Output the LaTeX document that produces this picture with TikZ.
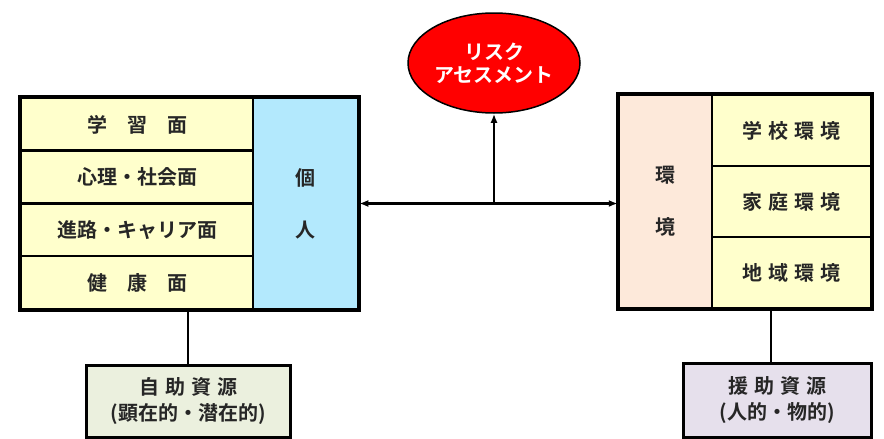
\documentclass[tikz,border=0pt]{standalone}
\usepackage{fontspec}
\setmainfont{Noto Sans CJK JP}[BoldFont=* Bold]
\usetikzlibrary{arrows.meta,shapes.geometric}
\definecolor{cellyellow}{HTML}{FFFFCC}
\definecolor{indblue}{HTML}{B3E9FD}
\definecolor{envpeach}{HTML}{FDE9DA}
\definecolor{selfgreen}{HTML}{EBF0DE}
\definecolor{aidlilac}{HTML}{E6E0EC}
\newcommand{\kgap}{\hspace{0.3em}}
\newcommand{\wgap}{\hspace{1em}}
\begin{document}
\begin{tikzpicture}
        [
            x=1pt, y=-1pt,
            >={Latex[length=9pt,width=7pt]},
            cell/.style={rectangle, draw, line width=2.5pt, fill=cellyellow, inner sep=0pt,
                font=\bfseries\fontsize{20}{24}\selectfont, text=black!85},
            bigcol/.style={cell, align=center, font=\bfseries\fontsize{20}{52}\selectfont},
            resbox/.style={cell, line width=3pt, align=center, font=\bfseries\fontsize{20}{26}\selectfont}
        ]
        \useasboundingbox (0,0) rectangle (884,439);

        % individual side
        \node[cell, minimum width=232pt, minimum height=52.75pt] (learn) at (137, 124.4) {学\wgap 習\wgap 面};
        \node[cell, minimum width=232pt, minimum height=52.75pt] (mind) at (137, 177.1) {心理・社会面};
        \node[cell, minimum width=232pt, minimum height=52.75pt] (career) at (137, 229.9) {進路・キャリア面};
        \node[cell, minimum width=232pt, minimum height=52.75pt] (health) at (137, 282.6) {健\wgap 康\wgap 面};
        \node[bigcol, fill=indblue, minimum width=105pt, minimum height=211pt] (ind) at (305.5, 203.5) {個\\人};
        \draw[line width=3.5pt] (learn.north west) rectangle (ind.south east);

        % environment side
        \node[bigcol, fill=envpeach, minimum width=93pt, minimum height=213pt] (env) at (665.5, 201.5) {環\\境};
        \node[cell, minimum width=159pt, minimum height=71pt] (school) at (791.5, 130.5) {学\kgap 校\kgap 環\kgap 境};
        \node[cell, minimum width=159pt, minimum height=71pt] (home) at (791.5, 201.5) {家\kgap 庭\kgap 環\kgap 境};
        \node[cell, minimum width=159pt, minimum height=71pt] (area) at (791.5, 272.5) {地\kgap 域\kgap 環\kgap 境};
        \draw[line width=3.5pt] (env.north west) rectangle (area.south east);

        % risk assessment
        \node[ellipse, draw, line width=1.5pt, fill=red, text=white, inner sep=0pt,
            minimum width=172pt, minimum height=100pt, align=center,
            font=\bfseries\fontsize{20}{23}\selectfont] (risk) at (494, 63) {リスク\\アセスメント};

        % resources
        \node[resbox, fill=selfgreen, minimum width=204pt, minimum height=72pt] (self) at (188, 401) {自\kgap 助\kgap 資\kgap 源\\(顕在的・潜在的)};
        \node[resbox, fill=aidlilac, minimum width=188pt, minimum height=74pt] (aid) at (777, 400) {援\kgap 助\kgap 資\kgap 源\\(人的・物的)};

        \coordinate (jn) at (risk.south |- ind.east);
        \draw[<->, line width=2.5pt] (ind.east) -- (ind.east -| env.west);
        \draw[->, line width=2.5pt] (jn) -- (risk.south);
        \draw[line width=2.5pt] (self.north) -- (self.north |- health.south);
        \draw[line width=2.5pt] ([xshift=-6pt]aid.north) -- ([xshift=-6pt]aid.north |- area.south);
    \end{tikzpicture}
\end{document}
